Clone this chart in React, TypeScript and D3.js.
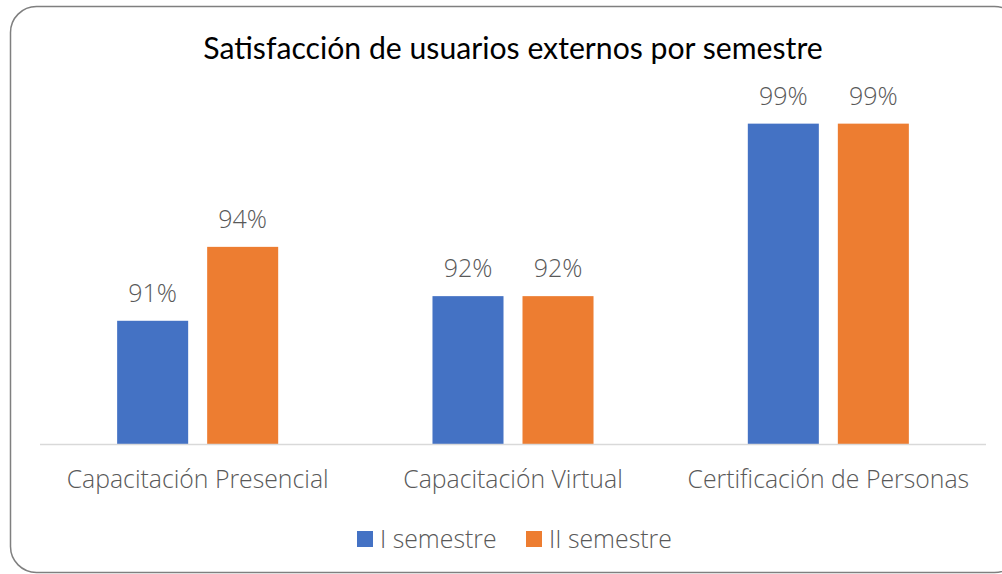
import React, { useEffect, useRef } from 'react'
import * as d3 from 'd3'

const categories = ['Capacitación Presencial', 'Capacitación Virtual', 'Certificación de Personas']
const seriesNames = ['I semestre', 'II semestre']
const semestre1 = [91, 92, 99]
const semestre2 = [94, 92, 99]
const colors = ['#4472c4', '#ed7d31']

export default function App() {
  const ref = useRef<SVGSVGElement>(null)

  useEffect(() => {
    const svg = d3.select(ref.current)
    svg.selectAll('*').remove()
    const width = 1002
    const height = 574
    const titleFont = 'Lato, "Open Sans", sans-serif'
    const font = '"Open Sans", sans-serif'

    // chart frame
    svg.append('rect')
      .attr('x', 10.5).attr('y', 6.5)
      .attr('width', 1010).attr('height', 566)
      .attr('rx', 26).attr('ry', 26)
      .attr('fill', '#fff')
      .attr('stroke', '#7f7f7f')
      .attr('stroke-width', 1.5)

    svg.append('text')
      .attr('x', 513).attr('y', 59)
      .attr('text-anchor', 'middle')
      .attr('font-family', titleFont)
      .attr('font-size', 30.2)
      .attr('fill', '#000')
      .text('Satisfacción de usuarios externos por semestre')

    const x0 = d3.scaleBand().domain(categories).range([40, 986]).padding(0)
    const x1 = d3.scaleBand().domain(seriesNames).range([0, x0.bandwidth()])
      .paddingInner(0.211).paddingOuter(0.857)
    const y = d3.scaleLinear().domain([86, 100]).range([444, 99])

    const rows = categories.map((c, i) => ({ cat: c, vals: [semestre1[i], semestre2[i]] }))

    const g = svg.append('g')
    const groups = g.selectAll('g.grp').data(rows).join('g')
      .attr('transform', d => `translate(${x0(d.cat)},0)`)

    groups.selectAll('rect').data(d => d.vals.map((v, j) => ({ v, s: seriesNames[j], j })))
      .join('rect')
      .attr('x', d => x1(d.s)!)
      .attr('y', d => y(d.v))
      .attr('width', x1.bandwidth())
      .attr('height', d => y(86) - y(d.v))
      .attr('fill', d => colors[d.j])

    groups.selectAll('text').data(d => d.vals.map((v, j) => ({ v, s: seriesNames[j] })))
      .join('text')
      .attr('x', d => x1(d.s)! + x1.bandwidth() / 2)
      .attr('y', d => y(d.v) - 19)
      .attr('text-anchor', 'middle')
      .attr('font-family', font)
      .attr('font-weight', 300)
      .attr('font-size', 25)
      .attr('fill', '#595959')
      .text(d => d.v + '%')

    // baseline
    svg.append('line')
      .attr('x1', 40).attr('x2', 986)
      .attr('y1', y(86) + 0.5).attr('y2', y(86) + 0.5)
      .attr('stroke', '#d9d9d9').attr('stroke-width', 1.5)

    svg.append('g').selectAll('text').data(categories).join('text')
      .attr('x', d => x0(d)! + x0.bandwidth() / 2)
      .attr('y', 488)
      .attr('text-anchor', 'middle')
      .attr('font-family', font)
      .attr('font-weight', 300)
      .attr('font-size', 24.8)
      .attr('fill', '#595959')
      .text(d => d)

    // legend
    const legendX = [357, 526]
    const lg = svg.append('g').selectAll('g').data(seriesNames).join('g')
      .attr('transform', (d, i) => `translate(${legendX[i]},531)`)
    lg.append('rect').attr('width', 16).attr('height', 16).attr('fill', (d, i) => colors[i])
    lg.append('text')
      .attr('x', 23).attr('y', 16.5)
      .attr('font-family', font)
      .attr('font-weight', 300)
      .attr('font-size', 24.8)
      .attr('fill', '#595959')
      .text(d => d)

    svg.attr('width', width).attr('height', height)
  }, [])

  return (
    <div style={{ position: 'absolute', left: 0, top: 0 }}>
      <svg ref={ref} width={1002} height={574} style={{ display: 'block' }}></svg>
    </div>
  )
}
